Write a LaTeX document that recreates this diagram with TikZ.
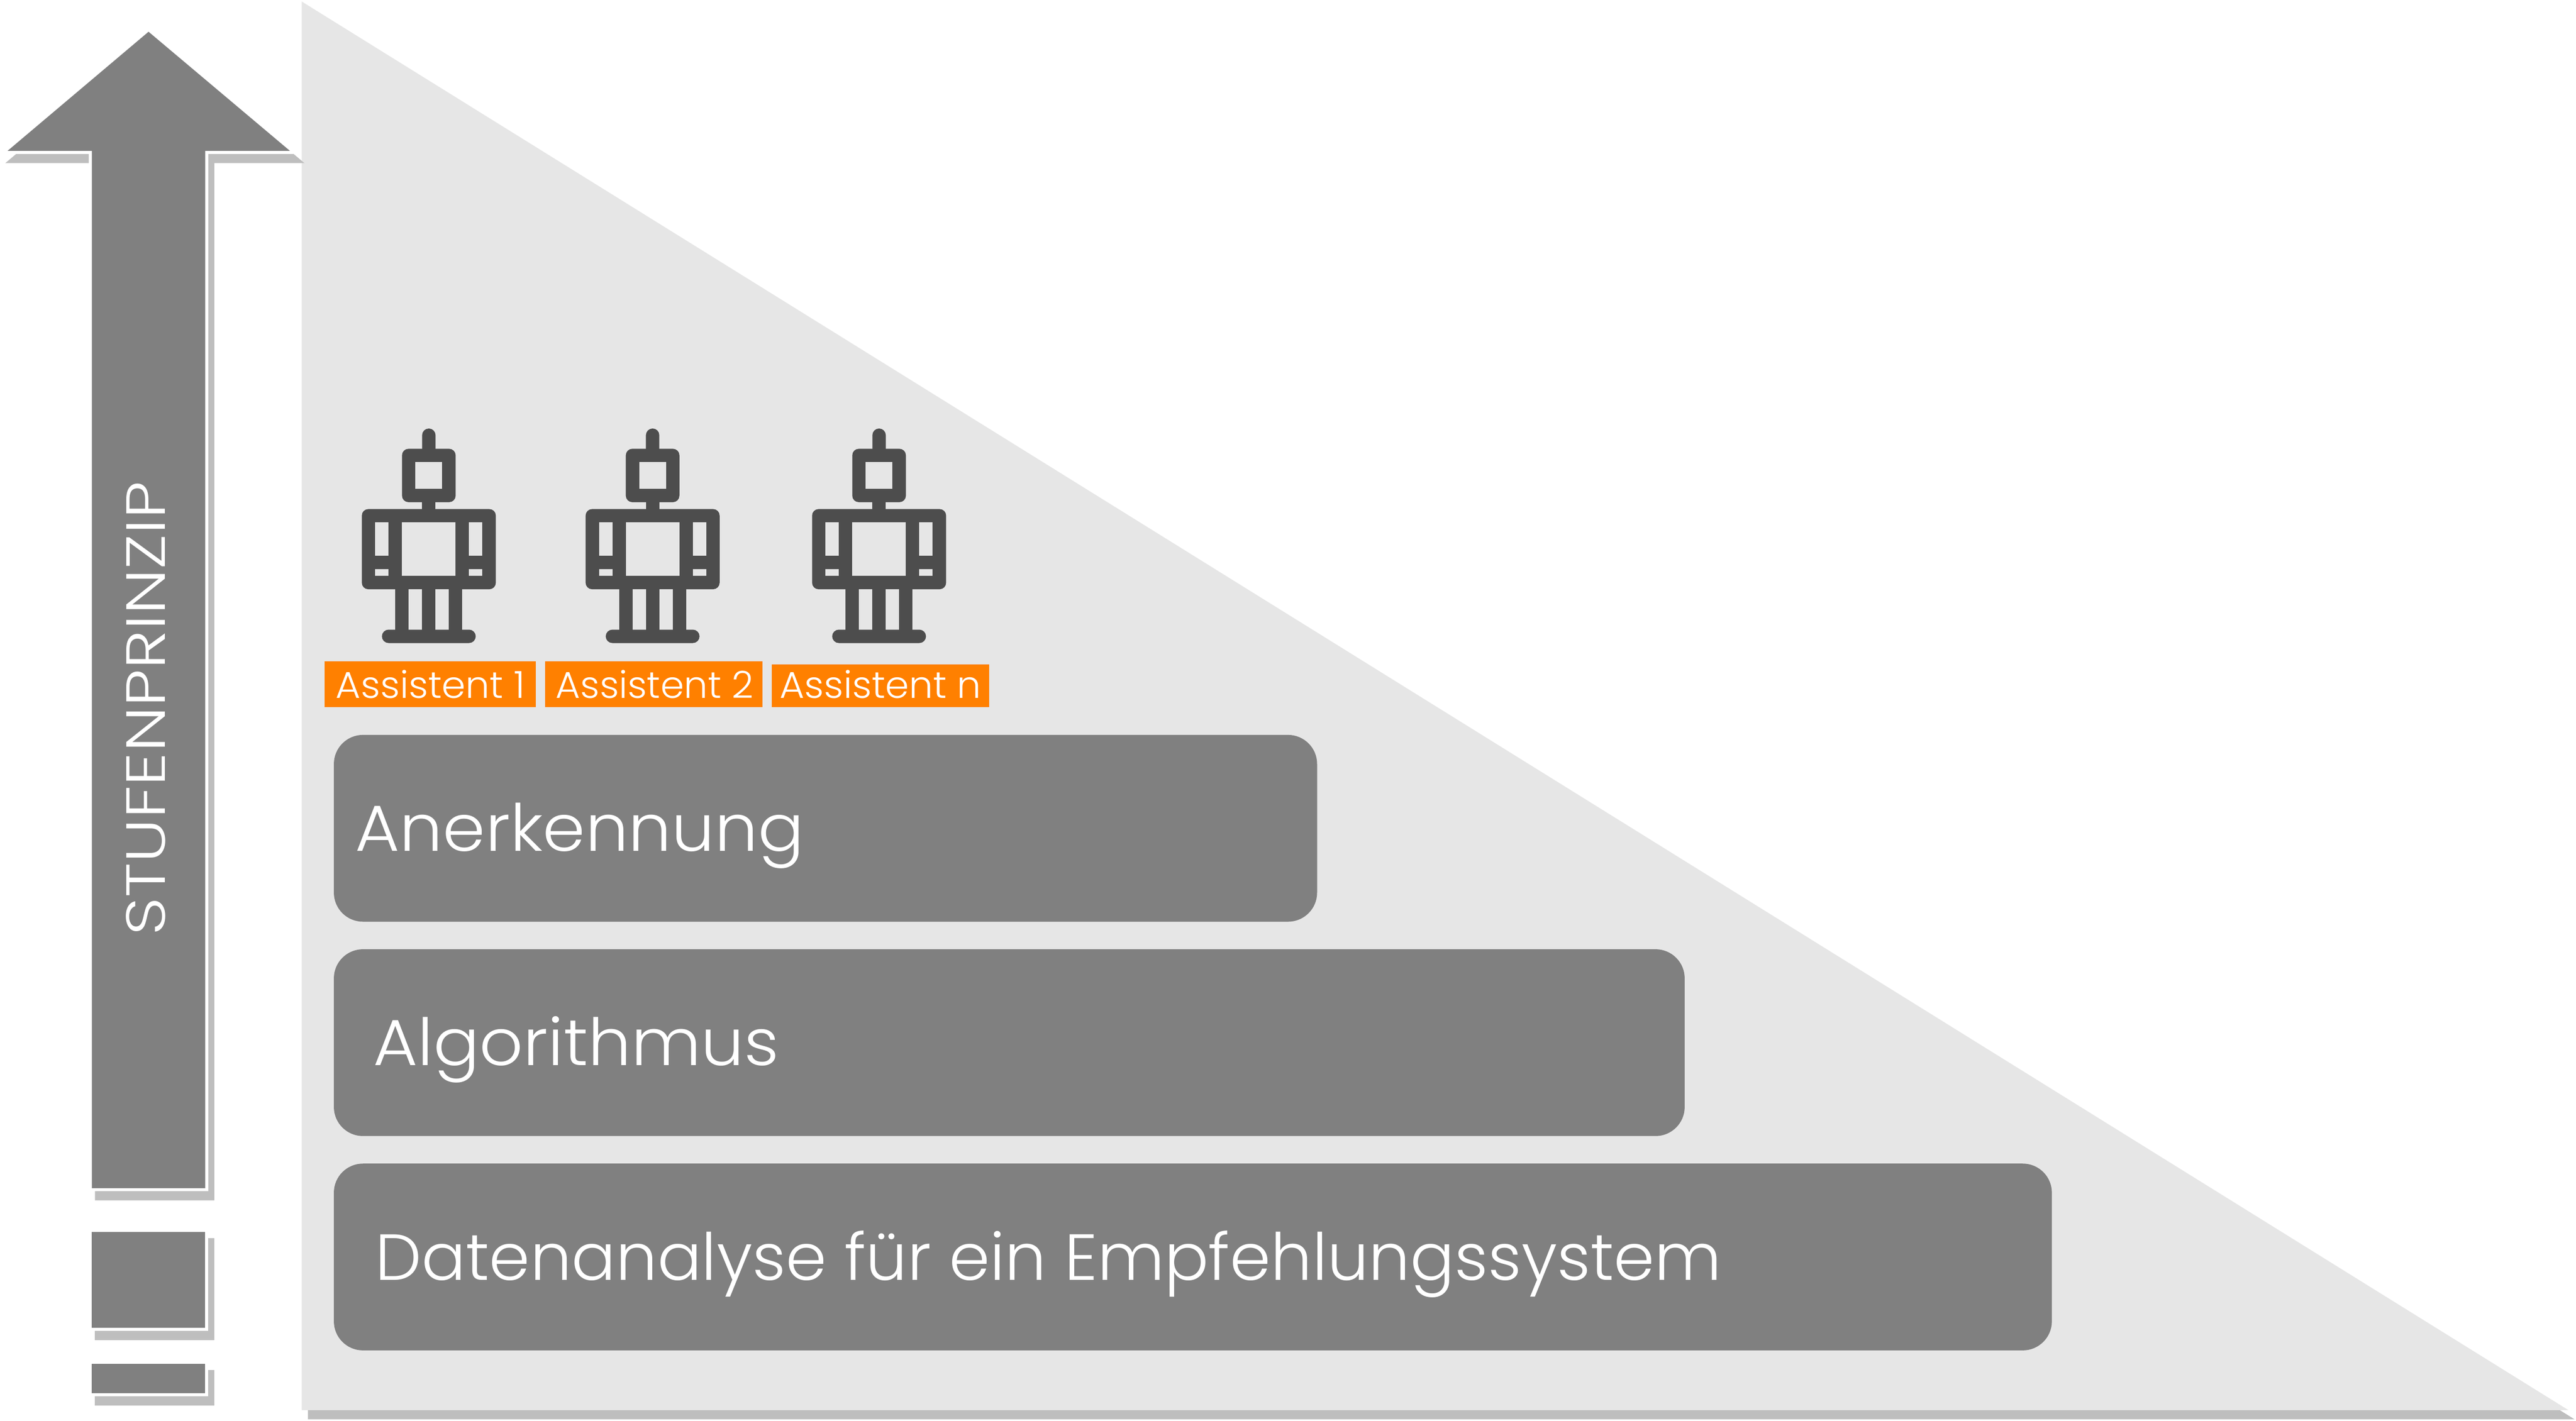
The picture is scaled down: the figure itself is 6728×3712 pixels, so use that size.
\documentclass[tikz,border=0pt]{standalone}
\usepackage{fontspec}
\usepackage{graphicx}
\newfontfamily\lightfont{Poppins Light}
\definecolor{panelgray}{HTML}{E6E6E6}
\definecolor{shadowgray}{HTML}{BEBEBE}
\definecolor{bargray}{HTML}{808080}
\definecolor{robotgray}{HTML}{4D4D4D}
\definecolor{labelorange}{HTML}{FF8000}
\newsavebox\fitbox
\newcommand\fitw[2]{\sbox\fitbox{#2}\pgfmathsetmacro\fitr{#1*0.284528/\wd\fitbox}\scalebox{\fitr}[1]{\usebox\fitbox}}
\tikzset{
  stepshadow/.style={fill=shadowgray,draw=shadowgray,line width=0.16cm,line join=miter,shift={(16,24)}},
  stepoutline/.style={draw=white,line width=0.16cm,line join=miter},
  stepshape/.style={fill=bargray},
  barbox/.style={fill=bargray,rounded corners=0.76cm},
  bartext/.style={anchor=base west,inner sep=0pt,text=white,font=\lightfont\fontsize{48.4}{58}\selectfont},
  tagbox/.style={fill=labelorange},
  tagtext/.style={anchor=base west,inner sep=0pt,text=white,font=\lightfont\fontsize{27.7}{33}\selectfont},
  robot/.pic={
    \fill[robotgray,rounded corners=0.175cm] (-17.5,1119.5) rectangle (17.5,1200);
    \fill[robotgray,rounded corners=0.17cm] (-70,1172.5) rectangle (70,1312);
    \fill[panelgray] (-35,1207) rectangle (35,1277.5);
    \fill[robotgray] (-17.5,1305) rectangle (17.5,1340);
    \fill[robotgray,rounded corners=0.17cm] (-175,1330) rectangle (175,1539.5);
    \fill[panelgray] (-140,1364.5) rectangle (-105,1452.5);
    \fill[panelgray] (-140,1487) rectangle (-105,1504);
    \fill[panelgray] (105,1364.5) rectangle (140,1452.5);
    \fill[panelgray] (105,1487) rectangle (140,1504);
    \fill[panelgray] (-70,1364.5) rectangle (70,1504);
    \fill[robotgray] (-87.5,1530) rectangle (87.5,1650);
    \fill[panelgray] (-52.5,1539.5) rectangle (-17.5,1645);
    \fill[panelgray] (17.5,1539.5) rectangle (52.5,1645);
    \fill[robotgray,rounded corners=0.175cm] (-122.5,1645) rectangle (122.5,1680);
  }
}
\begin{document}
\begin{tikzpicture}[x=0.01cm,y=-0.01cm]
\useasboundingbox (0,0) rectangle (6728,3712);
\fill[white] (0,0) rectangle (6728,3712);
% triangle
\fill[shadowgray] (804,28) -- (6724,3708) -- (804,3708) -- cycle;
\fill[panelgray] (788,4) -- (6708,3684) -- (788,3684) -- cycle;
% arrow and blocks: shadows
\path[stepshadow] (388,83) -- (757,394) -- (536,394) -- (536,3104) -- (240,3104) -- (240,394) -- (20,394) -- cycle;
\path[stepshadow] (240,3219) rectangle (536,3469);
\path[stepshadow] (240,3563) rectangle (536,3640);
% arrow and blocks: white outlines
\path[stepoutline] (388,83) -- (757,394) -- (536,394) -- (536,3104) -- (240,3104) -- (240,394) -- (20,394) -- cycle;
\path[stepoutline] (240,3219) rectangle (536,3469);
\path[stepoutline] (240,3563) rectangle (536,3640);
% arrow and blocks
\path[stepshape] (388,83) -- (757,394) -- (536,394) -- (536,3104) -- (240,3104) -- (240,394) -- (20,394) -- cycle;
\path[stepshape] (240,3219) rectangle (536,3469);
\path[stepshape] (240,3563) rectangle (536,3640);
\node[anchor=base west,inner sep=0pt,text=white,rotate=90,font=\lightfont\fontsize{41}{49}\selectfont] (stufen) at (431,2445) {\fitw{1186}{STUFENPRINZIP}};
% bars
\fill[barbox] (872,1920) rectangle (3440,2408);
\fill[barbox] (872,2480) rectangle (4400,2968);
\fill[barbox] (872,3040) rectangle (5359,3528);
\node[bartext] (anerkennung) at (927,2224) {\fitw{1172}{Anerkennung}};
\node[bartext] (algorithmus) at (974,2784) {\fitw{1060}{Algorithmus}};
\node[bartext] (datenanalyse) at (980,3344) {\fitw{3514}{Datenanalyse für ein Empfehlungssystem}};
% robots
\pic at (1120,0) {robot};
\pic at (1704.5,0) {robot};
\pic at (2296,0) {robot};
% labels
\fill[tagbox] (848,1728) rectangle (1400,1848);
\fill[tagbox] (1424,1728) rectangle (1992,1848);
\fill[tagbox] (2016,1736) rectangle (2584,1848);
\node[tagtext] (assist1) at (876,1824) {\fitw{495}{Assistent 1}};
\node[tagtext] (assist2) at (1451,1824) {\fitw{516}{Assistent 2}};
\node[tagtext] (assistn) at (2036,1824) {\fitw{526}{Assistent n}};
\end{tikzpicture}
\end{document}
